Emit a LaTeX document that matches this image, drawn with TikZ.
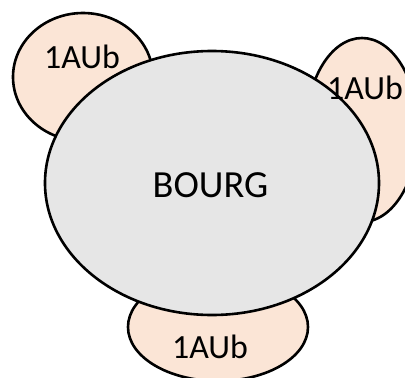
\documentclass[tikz,border=0pt]{standalone}
\usepackage{fontspec}
\setmainfont{Carlito}
\definecolor{peach}{HTML}{FBE5D6}
\definecolor{lgray}{HTML}{E6E6E6}
\begin{document}
\begin{tikzpicture}[x=1bp,y=-1bp,
  blob/.style={draw=black,line width=2.6bp},
  lab/.style={inner sep=0pt,font=\fontsize{34}{38}\selectfont},
  biglab/.style={inner sep=0pt,font=\fontsize{38.5}{42}\selectfont}]
\useasboundingbox (0,0) rectangle (405,378);
\clip (0,0) rectangle (405,378);
\draw[blob,fill=peach] (83,77) ellipse [x radius=70, y radius=64];
\draw[blob,fill=peach] (362,130) ellipse [x radius=56, y radius=92];
\draw[blob,fill=peach] (218,327) ellipse [x radius=90, y radius=54];
\draw[blob,fill=lgray] (212,183) ellipse [x radius=167, y radius=132];
\node[lab] (tl) at (82,57) {1AUb};
\node[lab] (rt) at (365,88) {1AUb};
\node[lab] (bt) at (210,347) {1AUb};
\node[biglab] (bourg) at (210.5,185) {BOURG};
\end{tikzpicture}
\end{document}
